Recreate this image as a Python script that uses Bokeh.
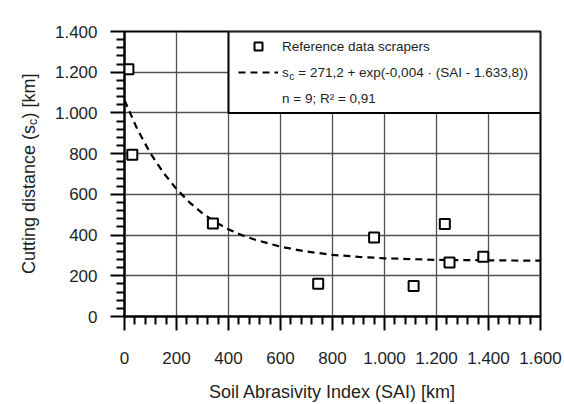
import math
from bokeh.plotting import figure
from bokeh.layouts import row
from bokeh.models import Range1d, FixedTicker, Label, Legend, LegendItem
from bokeh.embed import file_html
from bokeh.resources import INLINE

# ---- data ----
sai = [15, 30, 340, 745, 960, 1112, 1232, 1250, 1380]
cut_dist = [1215, 795, 457, 161, 388, 150, 455, 265, 294]

fit_sai = [0, 50, 100, 150, 200, 250, 300, 350, 400, 450, 500, 600, 700, 800,
           900, 1000, 1100, 1200, 1300, 1400, 1500, 1600]
fit_cut = [1062, 918, 801, 706, 626, 561, 507, 464, 428, 400, 378, 343, 319, 303,
           293, 286, 282, 278, 277, 276, 275, 274]

x_ticks = [0, 200, 400, 600, 800, 1000, 1200, 1400, 1600]
x_tick_labels = ["0", "200", "400", "600", "800", "1.000", "1.200", "1.400", "1.600"]
y_ticks = [0, 200, 400, 600, 800, 1000, 1200, 1400]
y_tick_labels = ["0", "200", "400", "600", "800", "1.000", "1.200", "1.400"]

legend_points = "Reference data scrapers"
legend_fit_s = "s"
legend_fit_sub = "c"
legend_fit_rest = "= 271,2 + exp(-0,004 · (SAI - 1.633,8))"
legend_stats = "n = 9; R² = 0,91"

x_label = "Soil Abrasivity Index (SAI) [km]"
y_label_a = "Cutting distance (s"
y_label_sub = "c"
y_label_b = ") [km]"

FONT = "Liberation Sans"
TXT = "#1e1e1e"

# ---- layout constants (canvas pixels) ----
W, H = 564, 404
LW = 46                      # width of the strip holding the y-axis title
FL, FR, FT, FB = 124, 540, 31, 316

# ---- strip with the rotated y-axis title (its frame is aligned with the main frame) ----
lf = figure(width=LW, height=H, x_range=Range1d(0, LW), y_range=Range1d(H - FB, H - FT),
            output_backend="svg", toolbar_location=None,
            x_axis_location=None, y_axis_location=None,
            min_border_left=0, min_border_right=0, min_border_top=FT, min_border_bottom=H - FB)
lf.outline_line_color = None
lf.grid.visible = False
lf.background_fill_color = "white"
lf.border_fill_color = "white"

ylx = 28
y0 = 273.5
wa = 8.281 * 18
lf.add_layout(Label(x=ylx, y=H - y0, text=y_label_a,
                    angle=math.pi / 2, text_font=FONT, text_font_size="18px", text_color=TXT,
                    text_baseline="middle", text_align="left"))
lf.add_layout(Label(x=ylx + 4, y=H - (y0 - wa), text=y_label_sub,
                    angle=math.pi / 2, text_font=FONT, text_font_size="12px", text_color=TXT,
                    text_baseline="middle", text_align="left"))
lf.add_layout(Label(x=ylx, y=H - (y0 - wa - 6.5), text=y_label_b,
                    angle=math.pi / 2, text_font=FONT, text_font_size="18px", text_color=TXT,
                    text_baseline="middle", text_align="left"))

# ---- main chart ----
p = figure(width=W - LW, height=H, x_range=Range1d(0, 1600), y_range=Range1d(0, 1400),
           output_backend="svg", toolbar_location=None,
           min_border_left=FL - LW, min_border_right=W - FR,
           min_border_top=FT, min_border_bottom=H - FB)
p.background_fill_color = "white"
p.border_fill_color = "white"
p.outline_line_color = "black"
p.outline_line_width = 2

for ax, ticks, labels in ((p.xaxis[0], x_ticks, x_tick_labels), (p.yaxis[0], y_ticks, y_tick_labels)):
    step = ticks[1] - ticks[0]
    minors = [t + k * step / 5 for t in ticks[:-1] for k in range(1, 5)]
    ax.ticker = FixedTicker(ticks=ticks, minor_ticks=minors)
    ax.major_label_overrides = {t: l for t, l in zip(ticks, labels)}
    ax.axis_line_color = "black"
    ax.axis_line_width = 2
    ax.major_tick_in = 0
    ax.major_tick_out = 14
    ax.major_tick_line_width = 2
    ax.major_tick_line_color = "black"
    ax.minor_tick_in = 0
    ax.minor_tick_out = 8
    ax.minor_tick_line_width = 2
    ax.minor_tick_line_color = "black"
    ax.major_label_text_font = FONT
    ax.major_label_text_font_size = "17px"
    ax.major_label_text_color = TXT

p.xaxis.major_label_standoff = 21
p.yaxis.major_label_standoff = 13
p.xaxis.axis_label = x_label
p.xaxis.axis_label_text_font = FONT
p.xaxis.axis_label_text_font_size = "18px"
p.xaxis.axis_label_text_font_style = "normal"
p.xaxis.axis_label_text_color = TXT
p.xaxis.axis_label_standoff = 15

p.xgrid.ticker = FixedTicker(ticks=x_ticks)
p.ygrid.ticker = FixedTicker(ticks=y_ticks)
p.grid.grid_line_color = "#505050"
p.grid.grid_line_width = 1.3

# legend frame (aligned to the grid), drawn as a glyph above the grid
p.quad(left=[x_ticks[2]], right=[x_ticks[-1]], bottom=[y_ticks[5]], top=[y_ticks[-1]],
       fill_color="white", line_color="black", line_width=2)

# fit curve and points
fit_r = p.line(fit_sai, fit_cut, line_color="black", line_width=2.2, line_dash="7 5")
pts_r = p.scatter(sai, cut_dist, marker="square", size=10, line_color="black",
                  line_width=2, fill_color="white")
stats_r = p.line(x=[], y=[], line_alpha=0)

legend = Legend(items=[LegendItem(label=legend_points, renderers=[pts_r]),
                       LegendItem(label=legend_fit_s, renderers=[fit_r]),
                       LegendItem(label=legend_stats, renderers=[stats_r])],
                location=(233 - FL, FB - 113), padding=5, spacing=6,
                glyph_width=40, glyph_height=20, label_height=20, label_standoff=4,
                border_line_alpha=0, background_fill_alpha=0,
                label_text_font=FONT, label_text_font_size="13.5px", label_text_color=TXT)
p.add_layout(legend)

# subscript and rest of the fit label (frame-relative screen units)
s_x = 282 + 6.8
p.add_layout(Label(x=s_x - FL, y=FB - 76, x_units="screen", y_units="screen", text=legend_fit_sub,
                   text_font=FONT, text_font_size="10px", text_color=TXT,
                   text_baseline="middle", text_align="left"))
p.add_layout(Label(x=s_x + 9 - FL, y=FB - 72, x_units="screen", y_units="screen", text=legend_fit_rest,
                   text_font=FONT, text_font_size="13.5px", text_color=TXT,
                   text_baseline="middle", text_align="left"))

layout = row(lf, p, spacing=0)
open("out.html", "w").write(file_html(layout, INLINE))
